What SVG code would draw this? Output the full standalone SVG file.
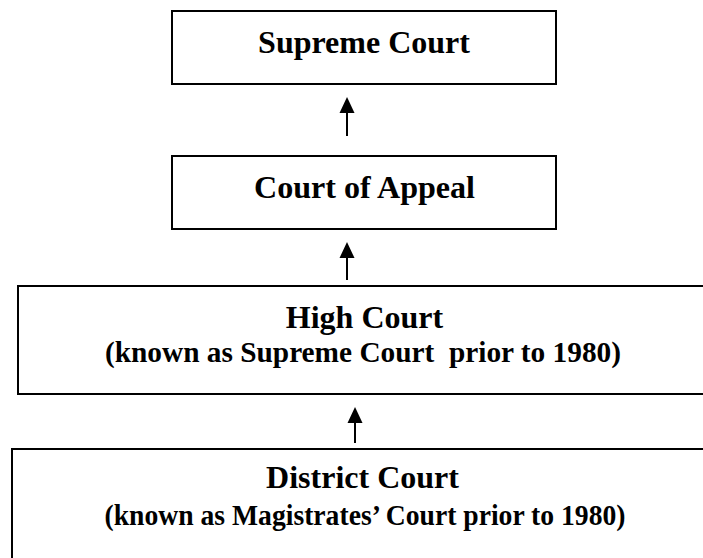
<svg xmlns="http://www.w3.org/2000/svg" width="703" height="558" viewBox="0 0 703 558">
<style>
.box{fill:#fff;stroke:#000;stroke-width:2}
.t{font-family:"Liberation Serif","Times New Roman",serif;font-weight:bold;font-size:32px;fill:#000;text-anchor:middle;white-space:pre}
.s{font-size:30px}
.conn line{stroke:#000;stroke-width:2}
.conn path{fill:#000;stroke:none}
</style>
<rect width="703" height="558" fill="#fff"/>
<g id="supreme-court">
<rect class="box" x="172" y="11" width="384" height="73"/>
<text class="t" x="364" y="53">Supreme Court</text>
</g>
<g id="court-of-appeal">
<rect class="box" x="172" y="156" width="384" height="73"/>
<text class="t" x="364.5" y="198" textLength="221" lengthAdjust="spacingAndGlyphs">Court of Appeal</text>
</g>
<g id="high-court">
<path class="box" d="M703 286 H18 V394 H703"/>
<text class="t" x="364.5" y="328">High Court</text>
<text class="t s" x="363" y="362" xml:space="preserve" textLength="516" lengthAdjust="spacingAndGlyphs">(known as Supreme Court  prior to 1980)</text>
</g>
<g id="district-court">
<path class="box" d="M703 449 H12 V558"/>
<text class="t" x="362.5" y="488">District Court</text>
<text class="t s" x="365" y="525" textLength="521" lengthAdjust="spacingAndGlyphs">(known as Magistrates’ Court prior to 1980)</text>
</g>
<g class="conn" id="connectors">
<line x1="347" y1="136" x2="347" y2="110"/>
<path d="M347 97 L339.5 113 L354.5 113 Z"/>
<line x1="347" y1="280" x2="347" y2="255"/>
<path d="M347 242 L339.5 258 L354.5 258 Z"/>
<line x1="355" y1="443" x2="355" y2="420"/>
<path d="M355 407 L347.5 423 L362.5 423 Z"/>
</g>
</svg>
